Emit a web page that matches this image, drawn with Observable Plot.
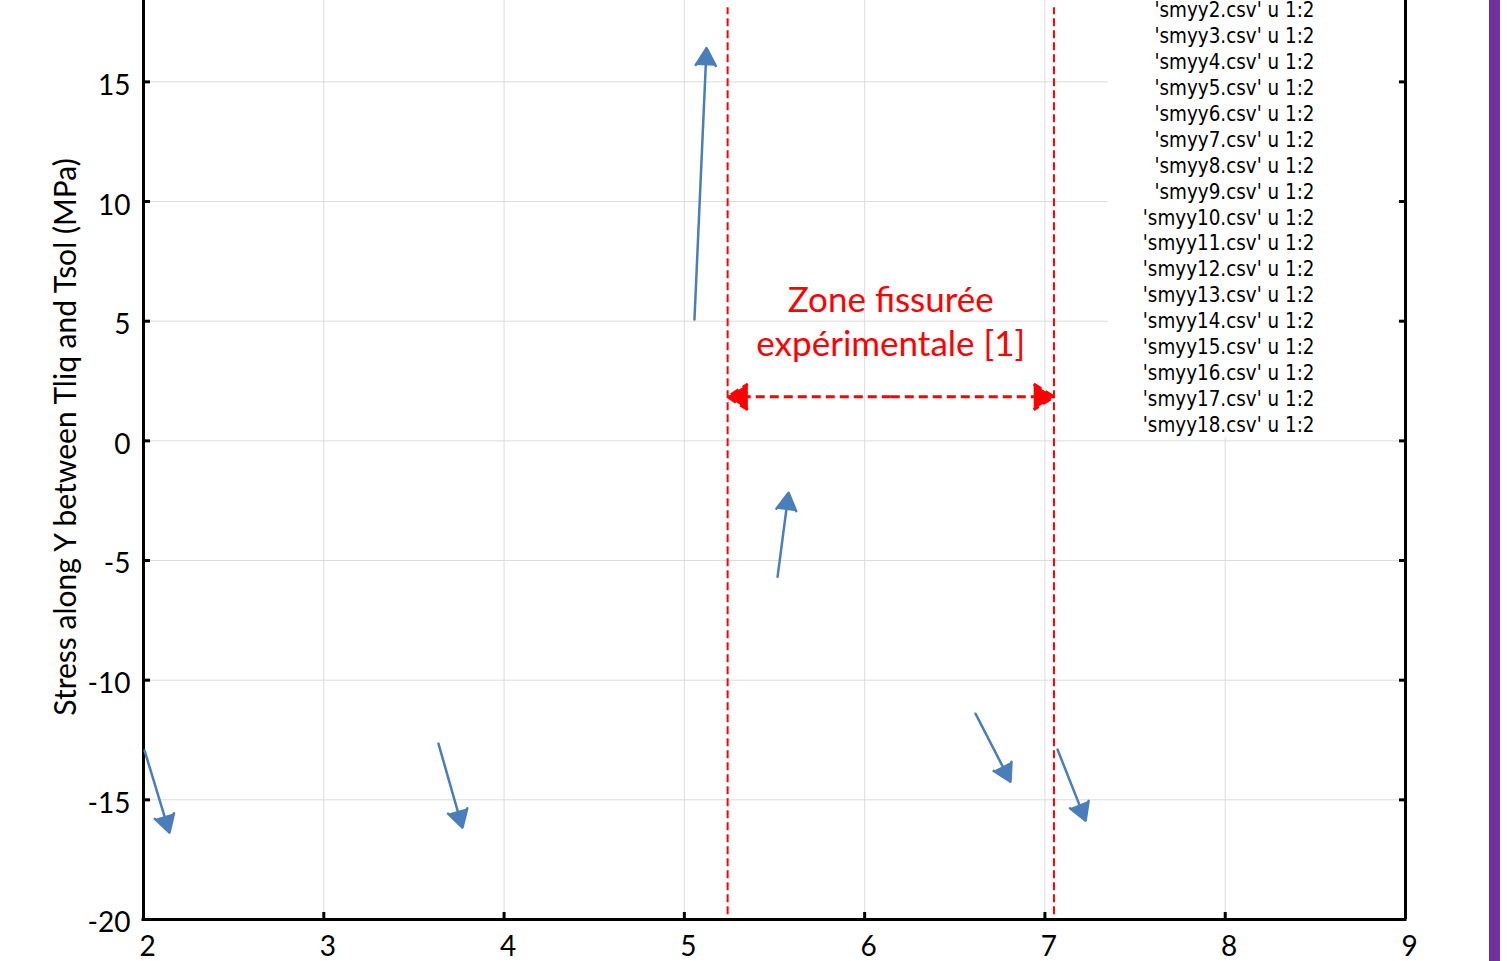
<!DOCTYPE html>
<html><head><meta charset="utf-8">
<script src="https://cdn.jsdelivr.net/npm/d3@7"></script>
<script src="https://cdn.jsdelivr.net/npm/@observablehq/plot@0.6"></script>
<style>
html,body{margin:0;padding:0;background:#fff;overflow:hidden;}
#wrap{position:relative;width:1509px;height:961px;}
#bar{position:absolute;left:1489px;top:0;width:11px;height:961px;background:#7030a0;}
</style></head><body>
<div id="wrap"><div id="chart"></div><div id="bar"></div></div>
<script>
const xTicks = [2, 3, 4, 5, 6, 7, 8, 9];
const yTicks = [-20, -15, -10, -5, 0, 5, 10, 15];
const arrowX1 = [2.006, 3.636, 5.056, 5.517, 6.615, 7.070];
const arrowY1 = [-12.94, -12.65, 5.07, -5.68, -11.40, -12.90];
const arrowX2 = [2.144, 3.769, 5.123, 5.578, 6.809, 7.226];
const arrowY2 = [-16.37, -16.16, 16.41, -2.17, -14.24, -15.87];
const zoneBounds = [5.24, 7.05];
const zoneArrowY = 1.84;
const zoneLabel = ["Zone fissurée", "expérimentale [1]"];
const zoneLabelY = [5.85, 4.0];
const legendLabels = [
  "'smyy2.csv' u 1:2", "'smyy3.csv' u 1:2", "'smyy4.csv' u 1:2", "'smyy5.csv' u 1:2",
  "'smyy6.csv' u 1:2", "'smyy7.csv' u 1:2", "'smyy8.csv' u 1:2", "'smyy9.csv' u 1:2",
  "'smyy10.csv' u 1:2", "'smyy11.csv' u 1:2", "'smyy12.csv' u 1:2", "'smyy13.csv' u 1:2",
  "'smyy14.csv' u 1:2", "'smyy15.csv' u 1:2", "'smyy16.csv' u 1:2", "'smyy17.csv' u 1:2",
  "'smyy18.csv' u 1:2"
];
const yLabel = "Stress along Y between Tliq and Tsol (MPa)";

const xDomain = [2, 9];
const yDomain = [-20, 18.4];
const legendBox = {x1: 7.35, x2: 8.96, y1: 0.13, y2: 18.4};

const arrows = arrowX1.map((x1, i) => ({x1, y1: arrowY1[i], x2: arrowX2[i], y2: arrowY2[i]}));
const zoneMid = (zoneBounds[0] + zoneBounds[1]) / 2;
const blue = "#4a7ebb";
const grid = "#dcdcdc";

const chart = Plot.plot({
  width: 1509,
  height: 961,
  marginLeft: 143,
  marginRight: 104,
  marginTop: 0,
  marginBottom: 42,
  x: {domain: xDomain},
  y: {domain: yDomain},
  style: {fontFamily: "Lato", color: "black", background: "white"},
  marks: [
    Plot.gridX(xTicks, {stroke: grid, strokeOpacity: 1}),
    Plot.gridY(yTicks, {stroke: grid, strokeOpacity: 1}),
    Plot.rect([legendBox], {x1: "x1", x2: "x2", y1: "y1", y2: "y2", fill: "white"}),
    Plot.axisY(yTicks, {anchor: "left", tickSize: 0, tickPadding: 13, tickFormat: d => String(d), fontSize: 28, dy: 4, label: null}),
    Plot.axisY(yTicks, {anchor: "left", tickSize: 7, dx: 7, tickFormat: () => "", strokeWidth: 3, label: null}),
    Plot.axisY(yTicks, {anchor: "right", tickSize: 7, dx: -7, tickFormat: () => "", strokeWidth: 3, label: null}),
    Plot.axisX(xTicks, {anchor: "bottom", tickSize: 0, tickPadding: 17, tickFormat: d => String(d), fontSize: 28, dx: 4, label: null}),
    Plot.axisX(xTicks, {anchor: "bottom", tickSize: 7, dy: -7, tickFormat: () => "", strokeWidth: 3, label: null}),
    Plot.ruleX(xDomain, {stroke: "black", strokeWidth: 3}),
    Plot.ruleY([yDomain[0]], {x1: xDomain[0], x2: xDomain[1], stroke: "black", strokeWidth: 3, strokeLinecap: "square"}),
    Plot.ruleX(zoneBounds, {y1: -19.8, y2: 18.1, stroke: "red", strokeWidth: 2, strokeDasharray: "8,4"}),
    Plot.arrow(zoneBounds, {x1: zoneMid, y1: zoneArrowY, x2: d => d, y2: zoneArrowY, stroke: "red", fill: "red",
      strokeWidth: 3, strokeDasharray: "9,5", strokeLinecap: "butt", headLength: 12, headAngle: 65}),
    Plot.arrow(arrows, {x1: "x1", y1: "y1", x2: "x2", y2: "y2", stroke: blue, fill: blue, strokeWidth: 2.5, headLength: 12}),
    Plot.text(zoneLabel, {x: zoneMid, y: (d, i) => zoneLabelY[i], text: d => d, fill: "red", fontSize: 35, fontFamily: "Lato"}),
    Plot.text([legendLabels.join("\n")], {frameAnchor: "top-right", text: d => d, textAnchor: "end", lineAnchor: "top",
      lineHeight: 1.272, dx: -91, dy: -2, fontSize: 20.4, fontFamily: "DejaVu Sans Condensed, DejaVu Sans", fill: "black"}),
    Plot.text([yLabel], {frameAnchor: "left", rotate: -90, dx: -77, dy: -23, fontSize: 30, text: d => d,
      textAnchor: "middle", lineAnchor: "middle", fill: "black"})
  ]
});
document.getElementById("chart").appendChild(chart);
</script>
</body></html>
